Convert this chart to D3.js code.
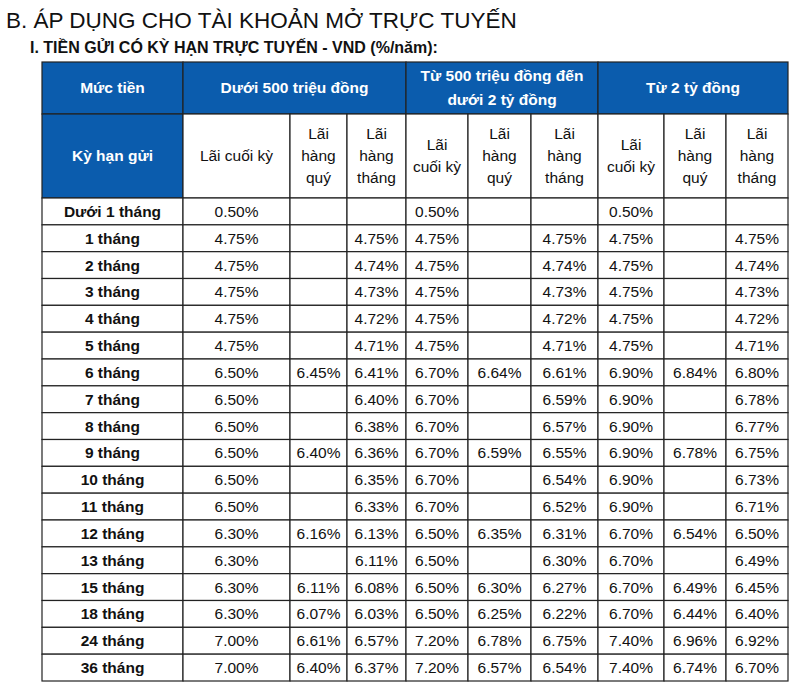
<!DOCTYPE html>
<html><head><meta charset="utf-8">
<script src="https://cdn.jsdelivr.net/npm/d3@7"></script>
<style>body{margin:0;background:#fff;font-family:"Liberation Sans",Arial,sans-serif}</style>
</head><body><div id="chart"></div>
<script>
var terms = ["Dưới 1 tháng","1 tháng","2 tháng","3 tháng","4 tháng","5 tháng","6 tháng","7 tháng","8 tháng","9 tháng","10 tháng","11 tháng","12 tháng","13 tháng","15 tháng","18 tháng","24 tháng","36 tháng"];
var groups = ["Dưới 500 triệu đồng", "Từ 500 triệu đồng đến\ndưới 2 tỷ đồng", "Từ 2 tỷ đồng"];
var subHeaders = ["Lãi cuối kỳ", "Lãi\nhàng\nquý", "Lãi\nhàng\ntháng"];
var subHeaders2 = ["Lãi\ncuối kỳ", "Lãi\nhàng\nquý", "Lãi\nhàng\ntháng"];
var g1End   = ["0.50%","4.75%","4.75%","4.75%","4.75%","4.75%","6.50%","6.50%","6.50%","6.50%","6.50%","6.50%","6.30%","6.30%","6.30%","6.30%","7.00%","7.00%"];
var g1Qtr   = ["","","","","","","6.45%","","","6.40%","","","6.16%","","6.11%","6.07%","6.61%","6.40%"];
var g1Mon   = ["","4.75%","4.74%","4.73%","4.72%","4.71%","6.41%","6.40%","6.38%","6.36%","6.35%","6.33%","6.13%","6.11%","6.08%","6.03%","6.57%","6.37%"];
var g2End   = ["0.50%","4.75%","4.75%","4.75%","4.75%","4.75%","6.70%","6.70%","6.70%","6.70%","6.70%","6.70%","6.50%","6.50%","6.50%","6.50%","7.20%","7.20%"];
var g2Qtr   = ["","","","","","","6.64%","","","6.59%","","","6.35%","","6.30%","6.25%","6.78%","6.57%"];
var g2Mon   = ["","4.75%","4.74%","4.73%","4.72%","4.71%","6.61%","6.59%","6.57%","6.55%","6.54%","6.52%","6.31%","6.30%","6.27%","6.22%","6.75%","6.54%"];
var g3End   = ["0.50%","4.75%","4.75%","4.75%","4.75%","4.75%","6.90%","6.90%","6.90%","6.90%","6.90%","6.90%","6.70%","6.70%","6.70%","6.70%","7.40%","7.40%"];
var g3Qtr   = ["","","","","","","6.84%","","","6.78%","","","6.54%","","6.49%","6.44%","6.96%","6.74%"];
var g3Mon   = ["","4.75%","4.74%","4.73%","4.72%","4.71%","6.80%","6.78%","6.77%","6.75%","6.73%","6.71%","6.50%","6.49%","6.45%","6.40%","6.92%","6.70%"];

var columns = [g1End,g1Qtr,g1Mon,g2End,g2Qtr,g2Mon,g3End,g3Qtr,g3Mon];
var colEdges = [42,183,290,347,406,468,531,598,664,726,788];
var blue = "#0b5cad";

var svg = d3.select("#chart").append("svg").attr("width",802).attr("height",690);

svg.append("text").attr("x",6).attr("y",28).text("B. ÁP DỤNG CHO TÀI KHOẢN MỞ TRỰC TUYẾN")
  .attr("font-size",22.5).attr("fill","#111");
svg.append("text").attr("x",30).attr("y",53).text("I. TIỀN GỬI CÓ KỲ HẠN TRỰC TUYẾN - VND (%/năm):")
  .attr("font-size",16).attr("font-weight","bold").attr("fill","#111");

var y = d3.scaleBand().domain(terms).range([198,681]);
var h1 = [62,114], h2 = [114,198];

function multiText(g, txt, cx, cy, opts){
  var lines = txt.split("\n"), lh = opts.lh || 22;
  var t = g.append("text").attr("text-anchor","middle").attr("font-size",opts.size||15.5)
    .attr("font-weight",opts.bold?"bold":"normal").attr("fill",opts.fill||"#111");
  lines.forEach(function(l,i){
    t.append("tspan").attr("x",cx).attr("y",cy+(i-(lines.length-1)/2)*lh).attr("dy","0.35em").text(l);
  });
}
function cell(x0,x1,y0,y1,fill){
  svg.append("rect").attr("x",x0).attr("y",y0).attr("width",x1-x0).attr("height",y1-y0)
    .attr("fill",fill).attr("stroke","#222").attr("stroke-width",1.2);
}

// header
cell(colEdges[0],colEdges[1],h1[0],h1[1],blue);
multiText(svg,"Mức tiền",(colEdges[0]+colEdges[1])/2,(h1[0]+h1[1])/2,{bold:1,fill:"#fff"});
cell(colEdges[0],colEdges[1],h2[0],h2[1],blue);
multiText(svg,"Kỳ hạn gửi",(colEdges[0]+colEdges[1])/2,(h2[0]+h2[1])/2,{bold:1,fill:"#fff"});
groups.forEach(function(gname,gi){
  var x0 = colEdges[1+gi*3], x1 = colEdges[4+gi*3];
  cell(x0,x1,h1[0],h1[1],blue);
  multiText(svg,gname,(x0+x1)/2,(h1[0]+h1[1])/2,{bold:1,fill:"#fff",lh:24});
  (gi==0?subHeaders:subHeaders2).forEach(function(s,si){
    var a = colEdges[1+gi*3+si], b = colEdges[2+gi*3+si];
    cell(a,b,h2[0],h2[1],"#fff");
    multiText(svg,s,(a+b)/2,(h2[0]+h2[1])/2,{});
  });
});

// body
terms.forEach(function(t){
  var y0 = y(t), y1 = y0+y.bandwidth();
  cell(colEdges[0],colEdges[1],y0,y1,"#fff");
  multiText(svg,t,(colEdges[0]+colEdges[1])/2,(y0+y1)/2,{bold:1});
});
columns.forEach(function(col,ci){
  var a = colEdges[ci+1], b = colEdges[ci+2];
  col.forEach(function(v,ri){
    var y0 = y(terms[ri]);
    cell(a,b,y0,y0+y.bandwidth(),"#fff");
    if(v) multiText(svg,v,(a+b)/2,y0+y.bandwidth()/2,{});
  });
});
</script></body></html>
